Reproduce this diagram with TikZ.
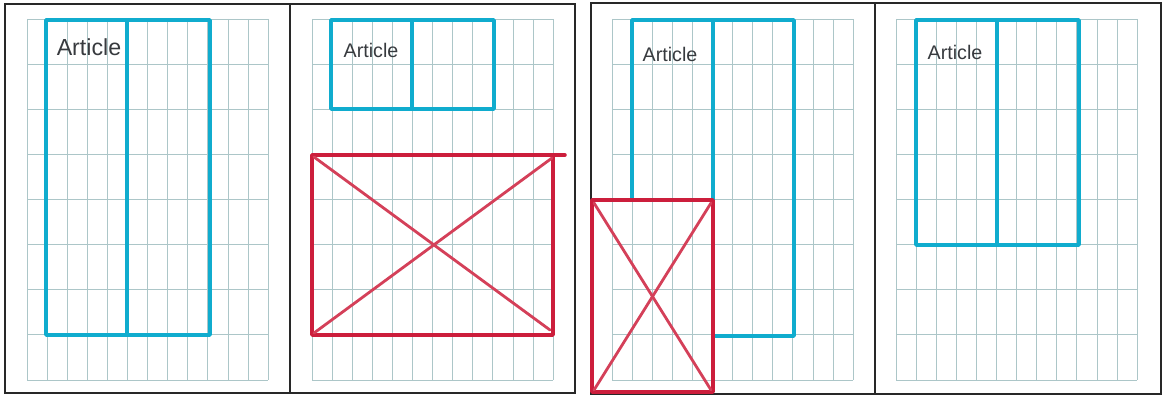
\documentclass[tikz,border=0pt]{standalone}
\usepackage{fontspec}
\setmainfont{Liberation Sans}
\definecolor{gridc}{RGB}{172,198,200}
\definecolor{bluec}{RGB}{16,172,206}
\definecolor{redc}{RGB}{204,30,60}
\definecolor{framec}{RGB}{40,40,40}
\definecolor{inkc}{RGB}{55,58,62}
\tikzset{
  gridline/.style={draw=gridc, line width=0.7pt},
  framebox/.style={draw=framec, line width=1.1pt},
  bluebox/.style={draw=bluec, line width=2.6pt, line join=round, line cap=round},
  redbox/.style={draw=redc, line width=2.5pt, line join=round, line cap=round},
  redcross/.style={draw=redc!85, line width=2pt, line cap=round},
  label/.style={inner sep=0pt, text=inkc, font=\fontsize{14}{14}\selectfont},
  papergrid/.pic={
    \foreach \i in {0,...,12} \draw[gridline] (\i*20.1,0) -- (\i*20.1,361);
    \foreach \j in {0,...,8} \draw[gridline] (0,\j*45.125) -- (241.2,\j*45.125);
  }
}
\begin{document}
\begin{tikzpicture}[x=0.025cm,y=-0.025cm]
\useasboundingbox (0,0) rectangle (1168,394);
% frames
\draw[framebox] (5,4) rectangle (575,393);
\draw[framebox] (290,4) -- (290,393);
\draw[framebox] (591,3) rectangle (1161,394);
\draw[framebox] (875,3) -- (875,394);
% grids
\pic at (27,19) {papergrid};
\pic at (312,19) {papergrid};
\pic at (612,19) {papergrid};
\pic at (896,19) {papergrid};
% panel 1
\draw[bluebox] (46,20) rectangle (210,335);
\draw[bluebox] (127,20) -- (127,335);
\node[label, font=\fontsize{16.5}{16.5}\selectfont] (t1) at (89,47) {Article};
% panel 2
\draw[bluebox] (331,20) rectangle (494,109);
\draw[bluebox] (412,20) -- (412,109);
\node[label] (t2) at (371,50) {Article};
\draw[redbox] (312,155) rectangle (553,335);
\draw[redbox] (553,155) -- (565,155);
\draw[redcross] (314,157) -- (550,330);
\draw[redcross] (314,333) -- (552,158);
% panel 3
\draw[bluebox] (632,200) -- (632,20) -- (794,20) -- (794,336) -- (713,336);
\draw[bluebox] (713,20) -- (713,200);
\node[label] (t3) at (670,54) {Article};
\draw[redbox] (592,200) rectangle (713,392);
\draw[redcross] (594,203) -- (711,390);
\draw[redcross] (594,390) -- (711,203);
% panel 4
\draw[bluebox] (916,20) rectangle (1079,245);
\draw[bluebox] (997,20) -- (997,245);
\node[label] (t4) at (955,52) {Article};
\end{tikzpicture}
\end{document}
